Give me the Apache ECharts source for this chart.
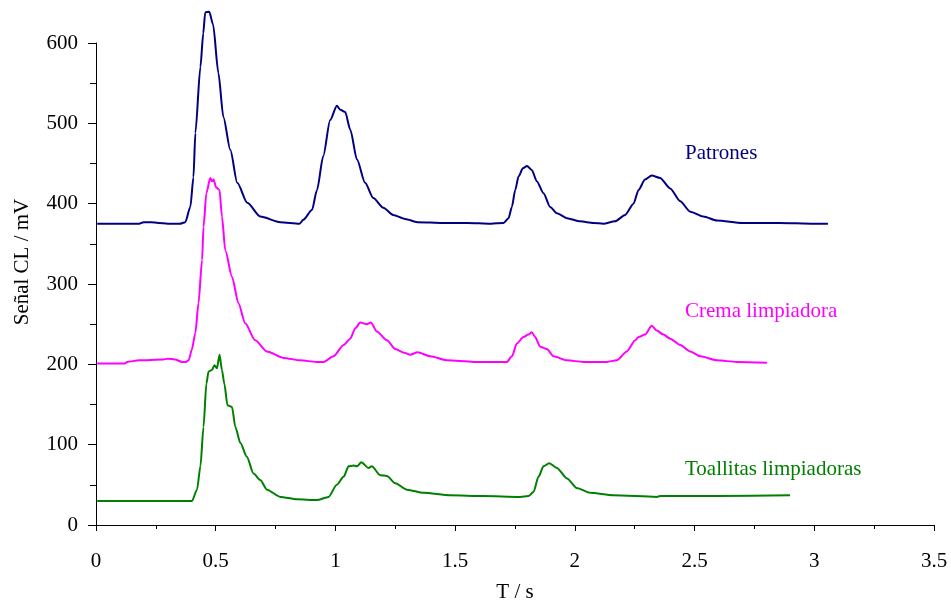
<!DOCTYPE html>
<html>
<head>
<meta charset="utf-8">
<script src="https://cdn.jsdelivr.net/npm/echarts@6/dist/echarts.min.js"></script>
<style>
  html, body { margin: 0; padding: 0; background: #fff; }
  #chart { width: 951px; height: 602px; }
</style>
</head>
<body>
<div id="chart"></div>
<script>
// tiempos (s) y señales (mV)
const patronesT = [0.005, 0.1, 0.18, 0.2, 0.23, 0.26, 0.3, 0.35, 0.373, 0.394, 0.407, 0.415, 0.436, 0.448, 0.456, 0.473, 0.489, 0.511, 0.532, 0.561, 0.59, 0.632, 0.686, 0.77, 0.85, 0.866, 0.902, 0.923, 0.949, 0.978, 1.006, 1.02, 1.041, 1.062, 1.09, 1.124, 1.158, 1.2, 1.241, 1.291, 1.342, 1.45, 1.55, 1.65, 1.702, 1.723, 1.737, 1.751, 1.765, 1.783, 1.8, 1.82, 1.841, 1.869, 1.897, 1.925, 1.967, 2.022, 2.078, 2.119, 2.168, 2.21, 2.245, 2.266, 2.293, 2.321, 2.356, 2.398, 2.44, 2.482, 2.537, 2.593, 2.7, 2.85, 3.0, 3.057];
const patronesV = [375, 375, 375, 377, 377, 376, 375, 375, 377, 396, 433, 488, 570, 612, 638, 639, 623, 563, 508, 467, 426, 401, 384, 377, 375, 380, 392, 417, 459, 504, 522, 517, 514, 492, 455, 426, 407, 395, 386, 381, 377, 376, 376, 375, 376, 382, 396, 417, 434, 444, 447, 442, 428, 413, 396, 388, 382, 378, 376, 375, 378, 386, 400, 417, 430, 435, 432, 419, 403, 390, 384, 379, 376, 376, 375, 375];

const cremaT = [0.005, 0.12, 0.13, 0.18, 0.28, 0.3, 0.33, 0.36, 0.375, 0.387, 0.4, 0.415, 0.428, 0.443, 0.449, 0.461, 0.477, 0.484, 0.491, 0.502, 0.516, 0.526, 0.54, 0.568, 0.595, 0.623, 0.665, 0.714, 0.783, 0.853, 0.92, 0.95, 0.992, 1.034, 1.062, 1.083, 1.104, 1.131, 1.148, 1.173, 1.215, 1.25, 1.291, 1.312, 1.343, 1.396, 1.466, 1.577, 1.702, 1.716, 1.737, 1.758, 1.785, 1.806, 1.82, 1.834, 1.855, 1.883, 1.911, 1.967, 2.036, 2.133, 2.175, 2.217, 2.252, 2.266, 2.293, 2.321, 2.342, 2.37, 2.398, 2.44, 2.482, 2.524, 2.593, 2.676, 2.802];
const cremaV = [201, 201, 203, 205, 206, 207, 206, 203, 203, 205, 218, 239, 276, 330, 371, 413, 432, 428, 430, 420, 417, 384, 342, 309, 276, 251, 230, 216, 208, 205, 203, 203, 210, 224, 232, 245, 252, 250, 252, 241, 230, 219, 214, 212, 215, 210, 205, 203, 203, 203, 210, 226, 234, 237, 240, 234, 222, 219, 210, 205, 203, 203, 205, 216, 230, 234, 237, 248, 242, 237, 232, 224, 216, 210, 205, 203, 202];

const toallitasT = [0.005, 0.2, 0.35, 0.401, 0.422, 0.436, 0.449, 0.461, 0.47, 0.484, 0.495, 0.505, 0.516, 0.526, 0.536, 0.549, 0.568, 0.582, 0.603, 0.63, 0.658, 0.686, 0.714, 0.77, 0.839, 0.923, 0.971, 1.006, 1.034, 1.055, 1.076, 1.09, 1.108, 1.138, 1.152, 1.187, 1.215, 1.25, 1.299, 1.368, 1.479, 1.618, 1.772, 1.806, 1.827, 1.848, 1.869, 1.893, 1.925, 1.967, 2.008, 2.064, 2.161, 2.342, 2.356, 2.6, 2.899];
const toallitasV = [30, 30, 30, 30, 44, 73, 122, 176, 191, 193, 199, 195, 212, 193, 176, 149, 147, 122, 102, 85, 64, 56, 44, 35, 32, 31, 35, 50, 60, 73, 74, 73, 78, 71, 73, 62, 61, 52, 44, 40, 37, 36, 35, 36, 41, 60, 73, 77, 71, 58, 46, 40, 37, 35, 36, 36, 37];

const seriesNames = ['Patrones', 'Crema limpiadora', 'Toallitas limpiadoras'];
const seriesColors = ['#000080', '#ff00ff', '#008000'];

const font = 'Liberation Serif';
const pairs = (t, v) => t.map((x, i) => [x, v[i]]);

const chart = echarts.init(document.getElementById('chart'));

const makeSeries = (name, color, data) => ({
    name: name,
    type: 'line',
    data: data,
    showSymbol: false,
    clip: false,
    smooth: 0.25,
    smoothMonotone: 'x',
    lineStyle: { color: color, width: 2 },
    itemStyle: { color: color },
    animation: false
});

chart.setOption({
    backgroundColor: '#fff',
    grid: { left: 96, right: 17, top: 43, bottom: 77, outerBoundsMode: 'none', containLabel: false },
    xAxis: {
        type: 'value',
        min: 0,
        max: 3.5,
        interval: 0.5,
        name: 'T / s',
        nameLocation: 'middle',
        nameGap: 57,
        nameTextStyle: { fontFamily: font, fontSize: 21, color: '#000' },
        axisLine: { lineStyle: { color: '#000', width: 1 } },
        axisTick: { inside: false, length: 6, lineStyle: { color: '#000' } },
        minorTick: { show: true, splitNumber: 2, length: 4, lineStyle: { color: '#000' } },
        axisLabel: { fontFamily: font, fontSize: 21, color: '#000', margin: 26 },
        splitLine: { show: false }
    },
    yAxis: {
        type: 'value',
        min: 0,
        max: 600,
        interval: 100,
        axisLine: { show: true, lineStyle: { color: '#000', width: 1 } },
        axisTick: { show: true, length: 8, lineStyle: { color: '#000' } },
        minorTick: { show: true, splitNumber: 2, length: 6, lineStyle: { color: '#000' } },
        axisLabel: { fontFamily: font, fontSize: 21, color: '#000', margin: 18 },
        splitLine: { show: false }
    },
    graphic: [
        {
            type: 'text', x: 22, y: 262, rotation: Math.PI / 2,
            style: { text: 'Señal CL / mV', font: '21px "Liberation Serif"', fill: '#000', align: 'center', verticalAlign: 'middle' }
        },
        {
            type: 'text', x: 685, y: 153,
            style: { text: seriesNames[0], font: '21px "Liberation Serif"', fill: seriesColors[0], align: 'left', verticalAlign: 'middle' }
        },
        {
            type: 'text', x: 685, y: 311,
            style: { text: seriesNames[1], font: '21px "Liberation Serif"', fill: seriesColors[1], align: 'left', verticalAlign: 'middle' }
        },
        {
            type: 'text', x: 685, y: 469,
            style: { text: seriesNames[2], font: '21px "Liberation Serif"', fill: seriesColors[2], align: 'left', verticalAlign: 'middle' }
        }
    ],
    series: [
        makeSeries(seriesNames[0], seriesColors[0], pairs(patronesT, patronesV)),
        makeSeries(seriesNames[1], seriesColors[1], pairs(cremaT, cremaV)),
        makeSeries(seriesNames[2], seriesColors[2], pairs(toallitasT, toallitasV))
    ]
});
</script>
</body>
</html>
